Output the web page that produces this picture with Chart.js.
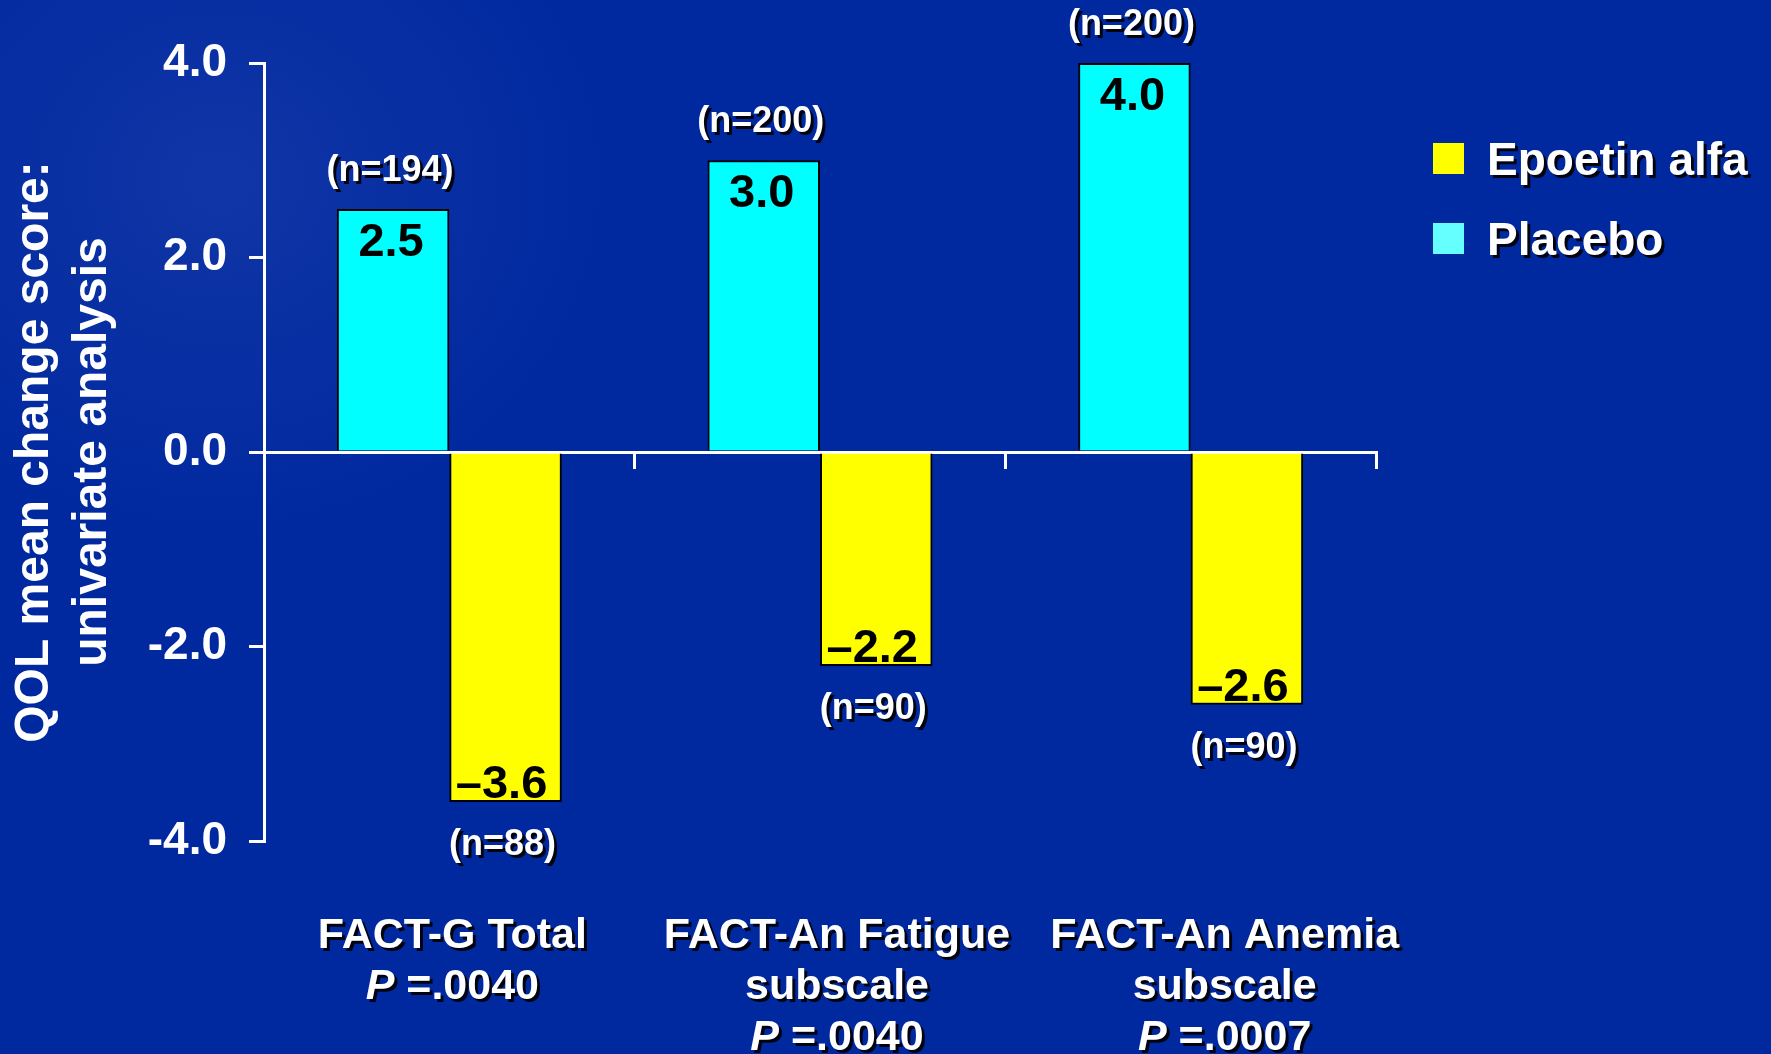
<!DOCTYPE html>
<html>
<head>
<meta charset="utf-8">
<script src="https://cdn.jsdelivr.net/npm/chart.js@4.4.1/dist/chart.umd.min.js"></script>
<style>
  html, body { margin: 0; padding: 0; }
  body { width: 1771px; height: 1054px; overflow: hidden; background: #00289f; }
  #wrap {
    position: relative; width: 1771px; height: 1054px;
    background:
      radial-gradient(ellipse 420px 380px at 220px 180px, rgba(70, 100, 190, 0.22), rgba(0, 40, 159, 0) 100%),
      #00289f;
  }
</style>
</head>
<body>
<div id="wrap"><canvas id="qolChart"></canvas></div>
<script>
// Chart data
const categoryNames = [['FACT-G Total'], ['FACT-An Fatigue', 'subscale'], ['FACT-An Anemia', 'subscale']];
const pValues = ['.0040', '.0040', '.0007'];
const placeboValues = [2.5, 3.0, 4.0];
const epoetinValues = [-3.6, -2.2, -2.6];
const placeboN = [194, 200, 200];
const epoetinN = [88, 90, 90];
const yTickValues = [-4, -2, 0, 2, 4];
const yTitleLines = ['QOL mean change score:', 'univariate analysis'];

const FONT = "'Liberation Sans', Arial, sans-serif";
const labelNudge = [3, 17, 34]; // category labels sit slightly right of centre in the slide

function fmtValue(v) {
  // slide uses an en dash for negatives
  return v < 0 ? '\u2013' + Math.abs(v).toFixed(1) : v.toFixed(1);
}

function setShadow(ctx) {
  ctx.shadowColor = 'rgba(0,0,0,0.9)';
  ctx.shadowOffsetX = 3;
  ctx.shadowOffsetY = 3;
  ctx.shadowBlur = 0;
}

// Draws the value labels, n labels, category labels and legend
const annotate = {
  id: 'annotate',
  afterDraw(chart) {
    const ctx = chart.ctx;
    const area = chart.chartArea;
    const xScale = chart.scales.x;
    const placeboBars = chart.getDatasetMeta(0).data;
    const epoetinBars = chart.getDatasetMeta(1).data;

    ctx.save();
    ctx.textAlign = 'center';
    ctx.textBaseline = 'alphabetic';

    // values inside the bars
    ctx.fillStyle = '#000';
    ctx.font = 'bold 47px ' + FONT;
    placeboBars.forEach((bar, i) => ctx.fillText(fmtValue(placeboValues[i]), bar.x - 2, bar.y + 47));
    epoetinBars.forEach((bar, i) => ctx.fillText(fmtValue(epoetinValues[i]), bar.x - 4, bar.y - 4));

    // sample sizes
    setShadow(ctx);
    ctx.fillStyle = '#fff';
    ctx.font = 'bold 36px ' + FONT;
    placeboBars.forEach((bar, i) => ctx.fillText('(n=' + placeboN[i] + ')', bar.x - 3, bar.y - 28));
    epoetinBars.forEach((bar, i) => ctx.fillText('(n=' + epoetinN[i] + ')', bar.x - 3, bar.y + 53));

    // category labels under the chart
    const lineGap = 51;
    categoryNames.forEach((lines, i) => {
      const cx = xScale.getPixelForValue(i) + labelNudge[i];
      let y = area.bottom + 107;
      ctx.textAlign = 'center';
      ctx.font = 'bold 43px ' + FONT;
      lines.forEach(line => {
        ctx.fillText(line, cx, y);
        y += lineGap;
      });
      // "P =.0040" with italic P
      const rest = ' =.' + pValues[i].slice(1);
      ctx.font = 'italic bold 43px ' + FONT;
      const wP = ctx.measureText('P').width;
      ctx.font = 'bold 43px ' + FONT;
      const wRest = ctx.measureText(rest).width;
      const start = cx - (wP + wRest) / 2;
      ctx.textAlign = 'left';
      ctx.font = 'italic bold 43px ' + FONT;
      ctx.fillText('P', start, y);
      ctx.font = 'bold 43px ' + FONT;
      ctx.fillText(rest, start + wP, y);
    });

    // legend: Epoetin alfa first, then Placebo
    const legendOrder = [1, 0];
    const legendColors = ['#66ffff', '#ffff00'];
    ctx.font = 'bold 46px ' + FONT;
    ctx.textAlign = 'left';
    legendOrder.forEach((dsIndex, row) => {
      const ds = chart.data.datasets[dsIndex];
      const boxX = area.right + 57;
      const boxY = 143 + row * 80;
      ctx.shadowColor = 'rgba(0,0,0,0)';
      ctx.fillStyle = legendColors[dsIndex];
      ctx.fillRect(boxX, boxY, 31, 31);
      setShadow(ctx);
      ctx.fillStyle = '#fff';
      ctx.fillText(ds.label, boxX + 54, boxY + 32);
    });

    ctx.restore();
  }
};

const qolCtx = document.getElementById('qolChart').getContext('2d');
const qolChart = new Chart(qolCtx, {
  type: 'bar',
  data: {
    labels: categoryNames.map(lines => lines.join(' ')),
    datasets: [
      {
        label: 'Placebo',
        data: placeboValues,
        backgroundColor: '#00ffff',
        borderColor: '#000000',
        borderWidth: 2
      },
      {
        label: 'Epoetin alfa',
        data: epoetinValues,
        backgroundColor: '#ffff00',
        borderColor: '#000000',
        borderWidth: 2
      }
    ]
  },
  options: {
    responsive: true,
    maintainAspectRatio: false,
    animation: false,
    layout: {
      padding: { top: 63, bottom: 213, left: 0, right: 395 }
    },
    datasets: {
      bar: { categoryPercentage: 0.607, barPercentage: 1.0 }
    },
    plugins: {
      legend: { display: false },
      tooltip: { enabled: false }
    },
    scales: {
      x: {
        position: { y: 0 },
        z: 1,
        offset: true,
        grid: {
          offset: true,
          drawOnChartArea: false,
          drawTicks: true,
          tickLength: 15,
          color: '#ffffff',
          lineWidth: 3
        },
        border: { display: true, color: '#ffffff', width: 3 },
        ticks: { display: false }
      },
      y: {
        min: -4,
        max: 4,
        afterFit: scale => { scale.width = 264; },
        afterBuildTicks: scale => { scale.ticks = yTickValues.map(v => ({ value: v })); },
        grid: {
          drawOnChartArea: false,
          drawTicks: true,
          tickLength: 15,
          color: '#ffffff',
          lineWidth: 3
        },
        border: { display: true, color: '#ffffff', width: 3 },
        ticks: {
          color: '#ffffff',
          padding: 22,
          font: { family: FONT, size: 46, weight: 'bold' },
          callback: value => value.toFixed(1)
        },
        title: {
          display: true,
          text: yTitleLines,
          color: '#ffffff',
          font: { family: FONT, size: 48, weight: 'bold', lineHeight: 1.21 },
          padding: { top: 6, bottom: 0 }
        }
      }
    }
  },
  plugins: [annotate]
});
</script>
</body>
</html>
